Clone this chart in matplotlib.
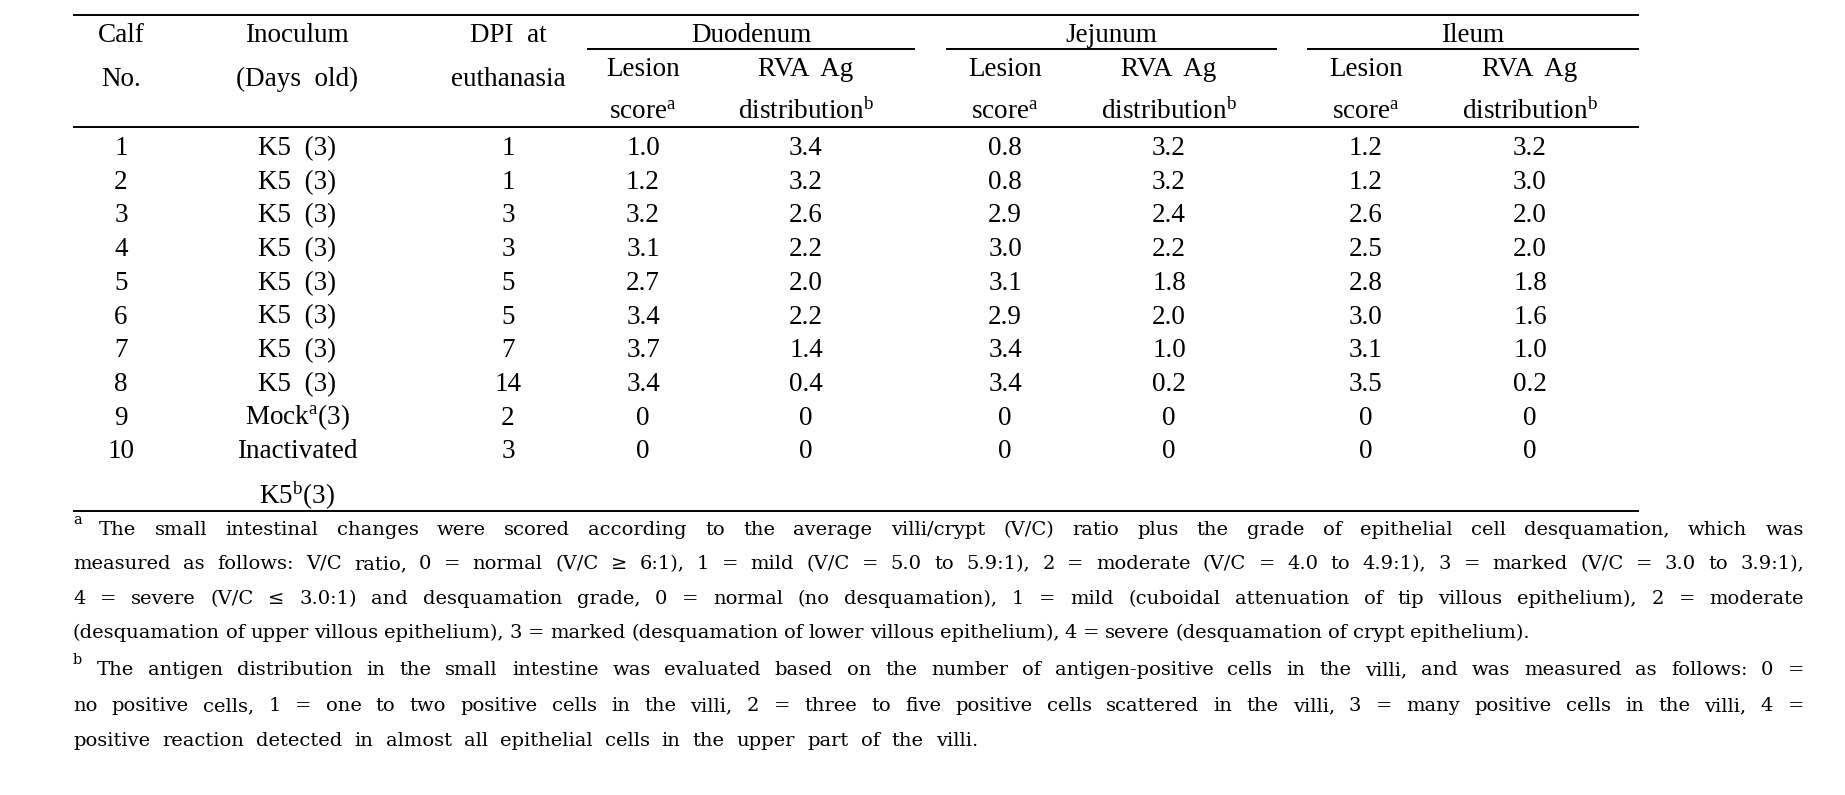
import numpy as np
import matplotlib
matplotlib.use('Agg')
import matplotlib.pyplot as plt

plt.rcParams['font.family'] = ['Liberation Serif', 'DejaVu Serif']
plt.rcParams['mathtext.fontset'] = 'custom'
plt.rcParams['mathtext.rm'] = 'Liberation Serif'
plt.rcParams['mathtext.it'] = 'Liberation Serif:italic'

# table data
calf = ['1', '2', '3', '4', '5', '6', '7', '8', '9', '10']
inoculum = ['K5  (3)'] * 8 + [r'Mock$^\mathrm{a}$(3)', 'Inactivated']
dpi = ['1', '1', '3', '3', '5', '5', '7', '14', '2', '3']
duo_lesion = ['1.0', '1.2', '3.2', '3.1', '2.7', '3.4', '3.7', '3.4', '0', '0']
duo_rva = ['3.4', '3.2', '2.6', '2.2', '2.0', '2.2', '1.4', '0.4', '0', '0']
jej_lesion = ['0.8', '0.8', '2.9', '3.0', '3.1', '2.9', '3.4', '3.4', '0', '0']
jej_rva = ['3.2', '3.2', '2.4', '2.2', '1.8', '2.0', '1.0', '0.2', '0', '0']
ile_lesion = ['1.2', '1.2', '2.6', '2.5', '2.8', '3.0', '3.1', '3.5', '0', '0']
ile_rva = ['3.2', '3.0', '2.0', '2.0', '1.8', '1.6', '1.0', '0.2', '0', '0']
groups = ['Duodenum', 'Jejunum', 'Ileum']

foot_a = [
    "The small intestinal changes were scored according to the average villi/crypt (V/C) ratio plus the grade of epithelial cell desquamation, which was",
    "measured as follows: V/C ratio, 0 = normal (V/C \u2265 6:1), 1 = mild (V/C = 5.0 to 5.9:1), 2 = moderate (V/C = 4.0 to 4.9:1), 3 = marked (V/C = 3.0 to 3.9:1),",
    "4 = severe (V/C \u2264 3.0:1) and desquamation grade, 0 = normal (no desquamation), 1 = mild (cuboidal attenuation of tip villous epithelium), 2 = moderate",
    "(desquamation of upper villous epithelium), 3 = marked (desquamation of lower villous epithelium), 4 = severe (desquamation of crypt epithelium).",
]
foot_b = [
    "The antigen distribution in the small intestine was evaluated based on the number of antigen-positive cells in the villi, and was measured as follows: 0 =",
    "no positive cells, 1 = one to two positive cells in the villi, 2 = three to five positive cells scattered in the villi, 3 = many positive cells in the villi, 4 =",
    "positive reaction detected in almost all epithelial cells in the upper part of the villi.",
]

W, H = 1845, 795
fig = plt.figure(figsize=(W / 100, H / 100), dpi=100)
ax = fig.add_axes([0, 0, 1, 1])
ax.set_xlim(0, W)
ax.set_ylim(H, 0)
ax.axis('off')

fs = 19.5
tfam = 'Liberation Serif'
cols = [121, 297, 508, 643, 806, 1005, 1169, 1366, 1530]
left, right = 74, 1638

def cell(x, y, s):
    ax.text(x, y, s, fontsize=fs, family=tfam, ha='center', va='baseline')

# rules
lw = 1.4
ax.plot([left, right], [15, 15], color='black', lw=lw)
ax.plot([left, right], [127, 127], color='black', lw=lw)
ax.plot([left, right], [511, 511], color='black', lw=lw)
group_spans = [(588, 914), (947, 1276), (1308, 1638)]
for g, (a, b) in zip(groups, group_spans):
    ax.plot([a, b], [49, 49], color='black', lw=lw)
    cell((a + b) / 2, 42, g)

# header
cell(cols[0], 42, 'Calf')
cell(cols[0], 86, 'No.')
cell(cols[1], 42, 'Inoculum')
cell(cols[1], 86, '(Days  old)')
cell(cols[2], 42, 'DPI  at')
cell(cols[2], 86, 'euthanasia')
for i in range(3):
    cell(cols[3 + 2 * i], 76, 'Lesion')
    cell(cols[3 + 2 * i], 119, r'score$^\mathrm{a}$')
    cell(cols[4 + 2 * i], 76, 'RVA  Ag')
    cell(cols[4 + 2 * i], 119, r'distribution$^\mathrm{b}$')

# body
columns = [calf, inoculum, dpi, duo_lesion, duo_rva, jej_lesion, jej_rva, ile_lesion, ile_rva]
row_y = 155 + 33.7 * np.arange(len(calf))
for col, x in zip(columns, cols):
    for v, y in zip(col, row_y):
        cell(x, y, v)
cell(cols[1], 504, r'K5$^\mathrm{b}$(3)')

# footnotes, justified line by line (wider serif like the original)
ffs = 14
ffam = 'DejaVu Serif'
renderer = fig.canvas.get_renderer()

def justify(line, x0, x1, y):
    words = line.split()
    texts = [ax.text(0, y, w, fontsize=ffs, family=ffam, ha='left', va='baseline')
             for w in words]
    widths = [t.get_window_extent(renderer).width for t in texts]
    gap = (x1 - x0 - sum(widths)) / (len(words) - 1)
    x = x0
    for t, w in zip(texts, widths):
        t.set_x(x)
        x += w + gap

a_y = [535, 569, 604, 638]
a_x = [(99, 1804), (73, 1804), (73, 1804), (73, 1530)]
for line, y, (x0, x1) in zip(foot_a, a_y, a_x):
    justify(line, x0, x1, y)
ax.text(73, 524, 'a', fontsize=10.5, family=ffam, ha='left', va='baseline')

b_y = [675, 711, 746]
b_x = [(97, 1804), (73, 1804), (73, 978)]
for line, y, (x0, x1) in zip(foot_b, b_y, b_x):
    justify(line, x0, x1, y)
ax.text(73, 664, 'b', fontsize=10.5, family=ffam, ha='left', va='baseline')

fig.savefig('out.png', dpi=100, facecolor='white')
